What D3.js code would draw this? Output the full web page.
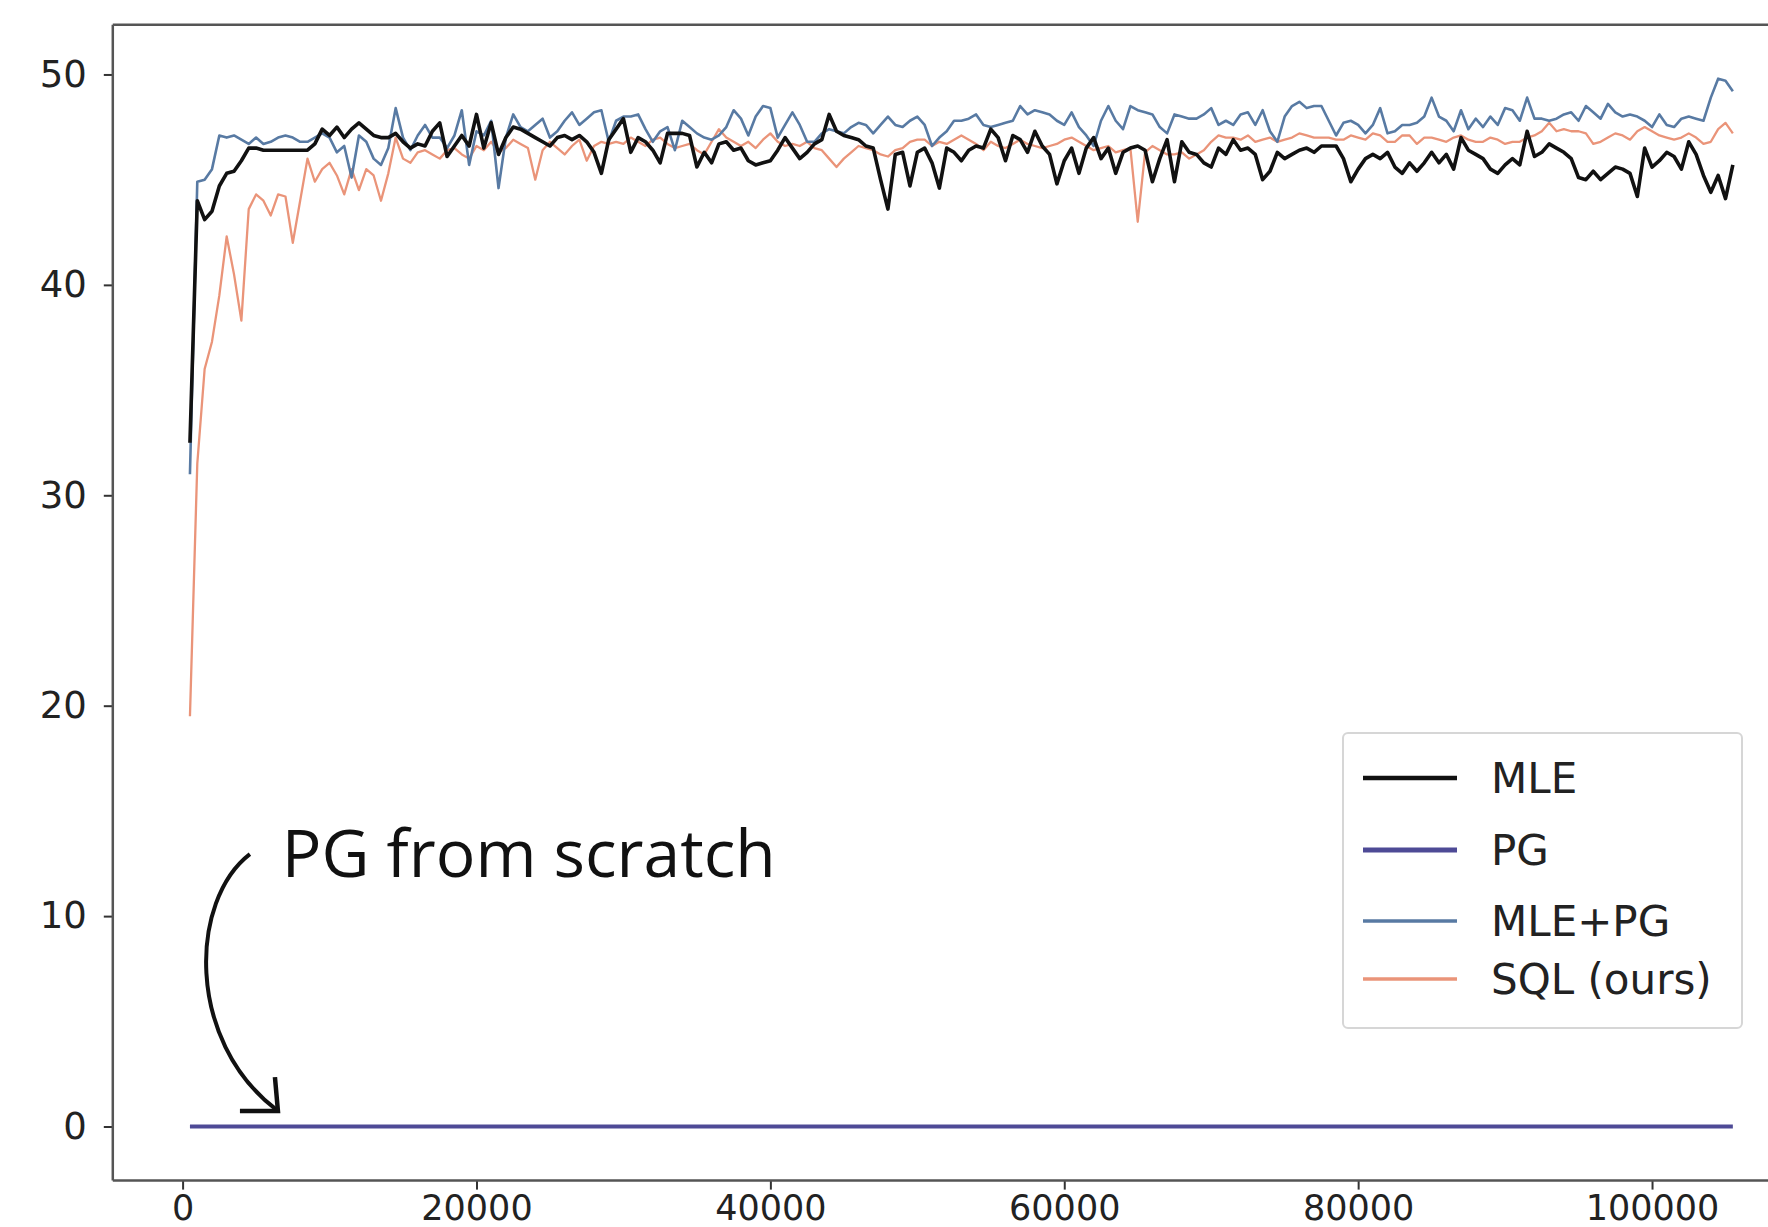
<!DOCTYPE html>
<html>
<head>
<meta charset="utf-8">
<script src="https://cdn.jsdelivr.net/npm/d3@7"></script>
<style>
  body { margin: 0; background: #fff; }
</style>
</head>
<body>
<div id="chart"></div>
<script>

// training steps (one reading every 500 steps)
var steps = d3.range(500, 105501, 500);

var mle = [
  32.5, 44.0, 43.1, 43.5, 44.7, 45.3, 45.4, 45.9, 46.5, 46.5,
  46.4, 46.4, 46.4, 46.4, 46.4, 46.4, 46.4, 46.7, 47.4, 47.1,
  47.5, 47.0, 47.4, 47.7, 47.4, 47.1, 47.0, 47.0, 47.2, 46.8,
  46.5, 46.7, 46.6, 47.3, 47.7, 46.1, 46.6, 47.1, 46.6, 48.1,
  46.5, 47.7, 46.2, 47.0, 47.5, 47.4, 47.2, 47.0, 46.8, 46.6,
  47.0, 47.1, 46.9, 47.1, 46.8, 46.3, 45.3, 46.9, 47.4, 47.9,
  46.3, 47.0, 46.8, 46.4, 45.8, 47.2, 47.2, 47.2, 47.1, 45.6,
  46.3, 45.8, 46.7, 46.8, 46.4, 46.5, 45.9, 45.7, 45.8, 45.9,
  46.4, 47.0, 46.5, 46.0, 46.3, 46.7, 46.9, 48.1, 47.3, 47.1,
  47.0, 46.9, 46.6, 46.5, 45.0, 43.6, 46.2, 46.3, 44.7, 46.3,
  46.5, 45.8, 44.6, 46.5, 46.3, 45.9, 46.4, 46.6, 46.5, 47.4,
  47.0, 45.9, 47.1, 46.9, 46.3, 47.3, 46.6, 46.2, 44.8, 45.9,
  46.5, 45.3, 46.5, 47.0, 46.0, 46.5, 45.3, 46.3, 46.5, 46.6,
  46.4, 44.9, 46.0, 46.9, 44.9, 46.8, 46.3, 46.2, 45.8, 45.6,
  46.5, 46.2, 46.9, 46.4, 46.5, 46.2, 45.0, 45.4, 46.3, 46.0,
  46.2, 46.4, 46.5, 46.3, 46.6, 46.6, 46.6, 46.0, 44.9, 45.5,
  46.0, 46.2, 46.0, 46.3, 45.6, 45.3, 45.8, 45.4, 45.8, 46.3,
  45.8, 46.2, 45.5, 47.0, 46.4, 46.2, 46.0, 45.5, 45.3, 45.7,
  46.0, 45.7, 47.3, 46.1, 46.3, 46.7, 46.5, 46.3, 46.0, 45.1,
  45.0, 45.4, 45.0, 45.3, 45.6, 45.5, 45.3, 44.2, 46.5, 45.6,
  45.9, 46.3, 46.1, 45.5, 46.8, 46.2, 45.2, 44.4, 45.2, 44.1,
  45.7
];

var mlePg = [
  31.0, 44.9, 45.0, 45.5, 47.1, 47.0, 47.1, 46.9, 46.7, 47.0,
  46.7, 46.8, 47.0, 47.1, 47.0, 46.8, 46.8, 47.0, 47.2, 47.0,
  46.3, 46.6, 45.1, 47.1, 46.8, 46.0, 45.7, 46.5, 48.4, 47.0,
  46.4, 47.1, 47.6, 47.0, 47.0, 46.5, 47.1, 48.3, 45.7, 47.3,
  47.1, 47.8, 44.6, 47.0, 48.1, 47.5, 47.3, 47.6, 47.9, 47.0,
  47.3, 47.8, 48.2, 47.6, 47.9, 48.2, 48.3, 46.8, 47.8, 48.0,
  48.0, 48.1, 47.4, 46.8, 47.3, 47.5, 46.4, 47.8, 47.5, 47.2,
  47.0, 46.9, 47.1, 47.5, 48.3, 47.9, 47.1, 48.0, 48.5, 48.4,
  47.0, 47.6, 48.2, 47.6, 46.8, 46.8, 47.2, 47.4, 47.3, 47.2,
  47.5, 47.7, 47.6, 47.2, 47.6, 48.0, 47.6, 47.5, 47.8, 48.0,
  47.6, 46.6, 47.0, 47.3, 47.8, 47.8, 47.9, 48.1, 47.6, 47.5,
  47.6, 47.7, 47.8, 48.5, 48.1, 48.3, 48.2, 48.1, 47.8, 47.6,
  48.2, 47.5, 47.1, 46.6, 47.8, 48.5, 47.8, 47.4, 48.5, 48.3,
  48.2, 48.1, 47.5, 47.2, 48.1, 48.0, 47.9, 47.9, 48.1, 48.4,
  47.6, 47.8, 47.6, 48.1, 48.2, 47.6, 48.3, 47.3, 46.8, 48.0,
  48.5, 48.7, 48.4, 48.5, 48.5, 47.8, 47.1, 47.7, 47.8, 47.6,
  47.2, 47.6, 48.4, 47.2, 47.3, 47.6, 47.6, 47.7, 48.0, 48.9,
  48.0, 47.8, 47.3, 48.3, 47.4, 47.9, 47.5, 48.0, 47.6, 48.4,
  48.3, 47.8, 48.9, 47.9, 47.9, 47.8, 47.9, 48.1, 48.2, 47.8,
  48.5, 48.2, 47.9, 48.6, 48.2, 48.0, 48.1, 48.0, 47.8, 47.5,
  48.1, 47.6, 47.5, 47.9, 48.0, 47.9, 47.8, 48.9, 49.8, 49.7,
  49.2
];

var sql = [
  19.5, 31.5, 36.0, 37.3, 39.5, 42.3, 40.5, 38.3, 43.6, 44.3,
  44.0, 43.3, 44.3, 44.2, 42.0, 44.0, 46.0, 44.9, 45.5, 45.8,
  45.2, 44.3, 45.5, 44.5, 45.5, 45.2, 44.0, 45.3, 47.0, 46.0,
  45.8, 46.3, 46.4, 46.2, 46.0, 46.4, 46.5, 46.2, 46.0, 46.6,
  46.4, 46.8, 46.3, 46.5, 46.9, 46.7, 46.5, 45.0, 46.4, 46.8,
  46.5, 46.2, 46.6, 46.9, 45.9, 46.6, 46.8, 46.7, 46.8, 46.7,
  47.0, 46.8, 46.6, 46.9, 47.0, 46.7, 46.5, 46.6, 46.7, 46.4,
  46.2, 46.8, 47.4, 47.0, 46.8, 46.6, 46.8, 46.5, 46.9, 47.2,
  46.8, 46.6, 46.7, 46.6, 46.8, 46.5, 46.4, 46.0, 45.6, 46.0,
  46.3, 46.6, 46.5, 46.4, 46.2, 46.1, 46.4, 46.5, 46.8, 46.9,
  46.9, 46.6, 46.8, 46.7, 46.9, 47.1, 46.9, 46.7, 46.4, 46.8,
  46.6, 46.5, 46.7, 46.9, 46.7, 46.6, 46.5, 46.6, 46.7, 46.9,
  47.0, 46.8, 46.6, 46.4, 46.5, 46.6, 46.3, 46.4, 46.5, 43.0,
  46.3, 46.6, 46.4, 46.2, 46.2, 46.3, 46.0, 46.2, 46.4, 46.8,
  47.1, 47.0, 47.0, 46.9, 47.1, 46.8, 46.9, 47.0, 46.8, 46.9,
  47.0, 47.2, 47.1, 47.0, 47.0, 47.0, 46.9, 46.9, 47.1, 47.0,
  46.9, 47.2, 47.1, 46.8, 46.8, 47.1, 47.1, 46.7, 47.0, 47.0,
  46.9, 46.8, 47.0, 47.1, 46.9, 46.8, 46.8, 47.0, 46.9, 46.7,
  46.8, 46.8, 47.0, 47.1, 47.3, 47.7, 47.3, 47.4, 47.3, 47.3,
  47.2, 46.7, 46.8, 47.0, 47.2, 47.1, 46.9, 47.3, 47.5, 47.3,
  47.1, 47.0, 46.9, 47.0, 47.2, 47.0, 46.7, 46.8, 47.4, 47.7,
  47.2
];

// PG stays flat at zero the whole run
var pgSteps = [500, 105500];
var pgValues = [0, 0];

var xTicks = [0, 20000, 40000, 60000, 80000, 100000];
var yTicks = [0, 10, 20, 30, 40, 50];

var legendKeys = ["MLE", "PG", "MLE+PG", "SQL (ours)"];
var colors = { "MLE": "#111111", "PG": "#4e4a96", "MLE+PG": "#587aa3", "SQL (ours)": "#ea9479" };
var widths = { "MLE": 3.6, "PG": 4, "MLE+PG": 2.6, "SQL (ours)": 2.3 };

var W = 1768, H = 1227;
var plot = { left: 112.8, top: 24.8, right: 1810, bottom: 1180.6 };

var svg = d3.select("#chart")
    .append("svg")
    .attr("width", W)
    .attr("height", H)
    .style("font-family", "'DejaVu Sans', sans-serif");

var x = d3.scaleLinear().domain([-4750, 110750]).range([plot.left, plot.right]);
var y = d3.scaleLinear().domain([-2.57, 52.36]).range([plot.bottom, plot.top]);

var line = d3.line()
    .x(function(d) { return x(d[0]); })
    .y(function(d) { return y(d[1]); });

function pairs(xs, ys) {
    return xs.map(function(v, i) { return [v, ys[i]]; });
}

var series = [
    { key: "SQL (ours)", data: pairs(steps, sql) },
    { key: "MLE+PG", data: pairs(steps, mlePg) },
    { key: "MLE", data: pairs(steps, mle) },
    { key: "PG", data: pairs(pgSteps, pgValues) }
];

svg.selectAll(".series")
    .data(series)
    .enter().append("path")
    .attr("class", "series")
    .attr("d", function(d) { return line(d.data); })
    .attr("fill", "none")
    .attr("stroke", function(d) { return colors[d.key]; })
    .attr("stroke-width", function(d) { return widths[d.key]; })
    .attr("stroke-linejoin", "round");

// Add the X Axis
var xAxis = svg.append("g")
    .attr("transform", "translate(0," + plot.bottom + ")")
    .call(d3.axisBottom(x).tickValues(xTicks).tickSize(9).tickPadding(6).tickFormat(d3.format("d")));

// Add the Y Axis
var yAxis = svg.append("g")
    .attr("transform", "translate(" + plot.left + ",0)")
    .call(d3.axisLeft(y).tickValues(yTicks).tickSize(9).tickPadding(17));

[xAxis, yAxis].forEach(function(g) {
    g.select(".domain").remove();
    g.selectAll(".tick line").attr("stroke", "#333").attr("stroke-width", 2);
    g.selectAll(".tick text")
        .attr("fill", "#222")
        .style("font-family", "'DejaVu Sans', sans-serif");
});
xAxis.selectAll(".tick text").style("font-size", "35px");
yAxis.selectAll(".tick text").style("font-size", "37px");

// spines
svg.append("line")
    .attr("x1", plot.left).attr("x2", plot.left)
    .attr("y1", plot.top).attr("y2", plot.bottom)
    .attr("stroke", "#555").attr("stroke-width", 2.5);
svg.append("line")
    .attr("x1", plot.left).attr("x2", W)
    .attr("y1", plot.bottom).attr("y2", plot.bottom)
    .attr("stroke", "#555").attr("stroke-width", 2.5);
svg.append("line")
    .attr("x1", plot.left).attr("x2", W)
    .attr("y1", plot.top).attr("y2", plot.top)
    .attr("stroke", "#555").attr("stroke-width", 2.5);

// "PG from scratch" note with curved arrow, placed in data units
var note = { textX: 6750, textY: 11.86, startX: 4580, startY: 12.95, tipX: 6420, tipY: 0.78 };

svg.append("text")
    .attr("x", x(note.textX))
    .attr("y", y(note.textY))
    .style("font-family", "'Open Sans', sans-serif")
    .style("font-size", "65px")
    .style("font-weight", "500")
    .attr("textLength", 494)
    .attr("lengthAdjust", "spacingAndGlyphs")
    .attr("fill", "#111")
    .text("PG from scratch");

var p0 = [x(note.startX), y(note.startY)];
var p3 = [x(note.tipX), y(note.tipY)];
var arrow = d3.path();
arrow.moveTo(p0[0], p0[1]);
arrow.bezierCurveTo(p0[0] - 60, p0[1] + 46, p0[0] - 65, p0[1] + 186, p3[0], p3[1]);
svg.append("path")
    .attr("d", arrow.toString())
    .attr("fill", "none")
    .attr("stroke", "#111")
    .attr("stroke-width", 4);

svg.append("path")
    .attr("d", "M" + (p3[0] - 37) + "," + (p3[1] + 1) + "L" + (p3[0] + 1) + "," + (p3[1] + 1) + "L" + (p3[0] - 2) + "," + (p3[1] - 33))
    .attr("fill", "none")
    .attr("stroke", "#111")
    .attr("stroke-width", 4.5)
    .attr("stroke-linejoin", "miter");

// legend
var lg = { x: 1343, y: 733, w: 399, h: 295 };
svg.append("rect")
    .attr("x", lg.x).attr("y", lg.y)
    .attr("width", lg.w).attr("height", lg.h)
    .attr("rx", 5)
    .attr("fill", "#fff")
    .attr("fill-opacity", 0.8)
    .attr("stroke", "#d6d6d6")
    .attr("stroke-width", 2);

var rowY = [778, 850, 921, 979];
var legendRow = svg.selectAll(".legendRow")
    .data(legendKeys)
    .enter().append("g")
    .attr("class", "legendRow")
    .attr("transform", function(d, i) { return "translate(" + 1363 + "," + rowY[i] + ")"; });

legendRow.append("line")
    .attr("x1", 0).attr("x2", 94)
    .attr("stroke", function(d) { return colors[d]; })
    .attr("stroke-width", function(d) { return widths[d] + 1; });

legendRow.append("text")
    .attr("x", 128)
    .attr("dy", "0.36em")
    .attr("fill", "#222")
    .style("font-size", "42px")
    .text(function(d) { return d; });

</script>
</body>
</html>
